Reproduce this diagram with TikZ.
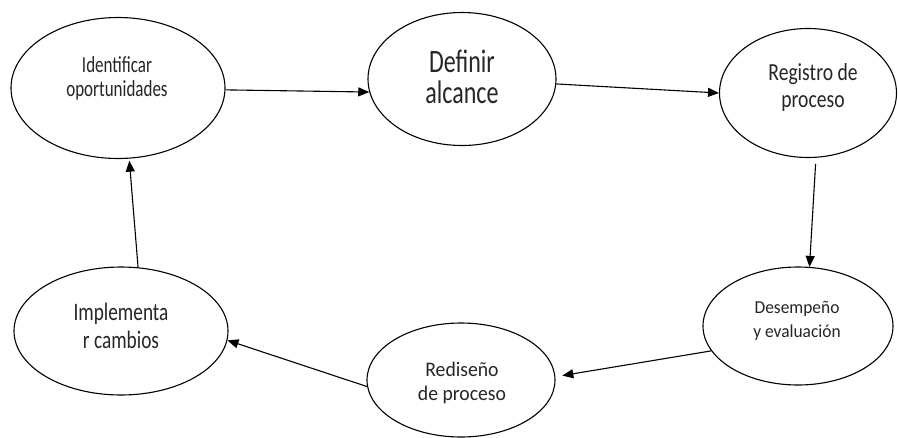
\documentclass[tikz,border=0pt]{standalone}
\usepackage{graphicx}
\usepackage{fontspec}
\setmainfont{Carlito}
\usetikzlibrary{arrows.meta,shapes.geometric}
\newcommand\lbltext[4]{\scalebox{1}[#3]{\fontsize{#1}{#2}\selectfont\begin{tabular}[t]{@{}c@{}}#4\end{tabular}}}
\tikzset{
  ell/.style={draw=black, line width=1.1pt, ellipse, inner sep=0pt, fill=white},
  lbl/.style={anchor=base, inner sep=0pt, text=black!85},
  conn/.style={draw=black, line width=1.1pt, -{Triangle[length=11pt,width=9pt]}}
}
\begin{document}
\begin{tikzpicture}[x=1pt,y=-1pt]
\fill[white] (0,0) rectangle (898,437);
\useasboundingbox (0,0) rectangle (898,437);
% ellipses
\node[ell, minimum width=214pt, minimum height=141pt] (e1) at (118,88) {};
\node[ell, minimum width=188pt, minimum height=133pt] (e2) at (462,79) {};
\node[ell, minimum width=177pt, minimum height=129pt] (e3) at (808,93) {};
\node[ell, minimum width=190pt, minimum height=118pt] (e4) at (798,326) {};
\node[ell, minimum width=188pt, minimum height=114pt] (e5) at (461,380) {};
\node[ell, minimum width=214pt, minimum height=128pt] (e6) at (121,331) {};
% labels
\node[lbl] (t1) at (117,72) {\lbltext{17}{18.5}{1.35}{Identificar\\oportunidades}};
\node[lbl] (t2) at (462,72) {\lbltext{24}{22.5}{1.36}{Definir\\alcance}};
\node[lbl] (t3) at (813,80) {\lbltext{19.6}{21.6}{1.25}{Registro de\\proceso}};
\node[lbl] (t4) at (797,313) {\lbltext{17.4}{23}{1.05}{Desempeño\\y evaluación}};
\node[lbl] (t5) at (462,376) {\lbltext{19.7}{23}{1.05}{Rediseño\\de proceso}};
\node[lbl] (t6) at (121,320) {\lbltext{19.3}{22}{1.3}{Implementa\\r cambios}};
% connectors
\draw[conn] (e1.-1) -- (e2.188);
\draw[conn] (e2.-3) -- (e3.180);
\draw[conn, shorten <=6pt] (e3.-83) -- (e4.79);
\draw[conn, shorten >=7pt] (e4.196) -- (e5.2);
\draw[conn] (e5.184) -- (e6.-5);
\draw[conn, shorten >=2pt] (e6.75) -- (e1.-81);
\end{tikzpicture}
\end{document}
